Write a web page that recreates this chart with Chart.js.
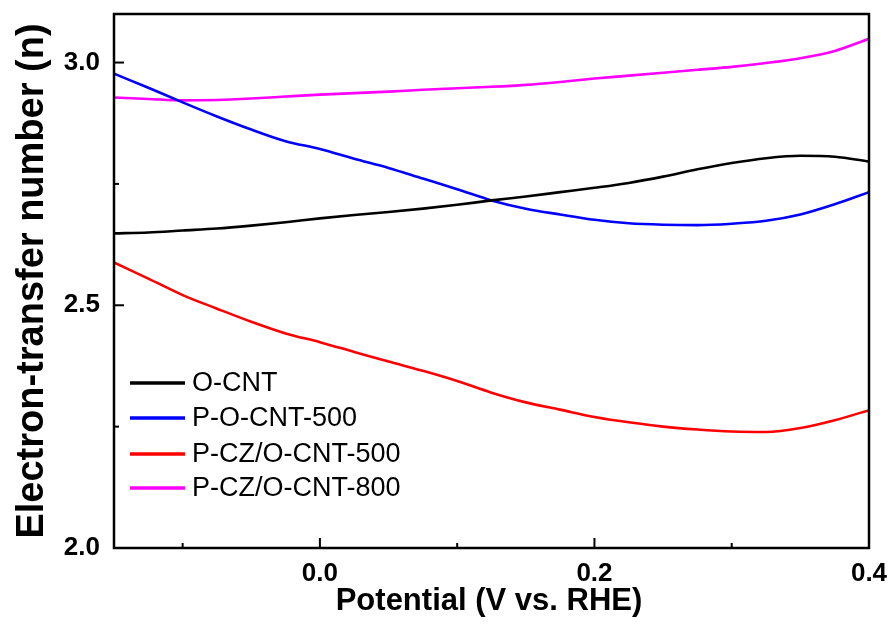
<!DOCTYPE html>
<html>
<head>
<meta charset="utf-8">
<script src="https://cdn.jsdelivr.net/npm/chart.js@4.4.1/dist/chart.umd.min.js"></script>
<style>
  html, body { margin: 0; padding: 0; background: #ffffff; }
  #wrap { width: 895px; height: 624px; position: relative; }
</style>
</head>
<body>
<div id="wrap"><canvas id="c"></canvas></div>
<script>
// ---- data ----
const potential = [-0.15, -0.125, -0.1, -0.075, -0.05, -0.025, 0, 0.025, 0.05, 0.075, 0.1, 0.125, 0.15, 0.175, 0.2, 0.225, 0.25, 0.275, 0.3, 0.325, 0.35, 0.375, 0.4];
const oCNT      = [2.648, 2.650, 2.654, 2.658, 2.664, 2.671, 2.679, 2.686, 2.692, 2.699, 2.707, 2.716, 2.724, 2.733, 2.742, 2.752, 2.765, 2.780, 2.793, 2.803, 2.808, 2.806, 2.796];
const pOCNT500  = [2.977, 2.948, 2.918, 2.889, 2.862, 2.838, 2.822, 2.802, 2.783, 2.761, 2.739, 2.716, 2.699, 2.687, 2.676, 2.669, 2.666, 2.665, 2.668, 2.674, 2.687, 2.708, 2.733];
const pCZ500    = [2.588, 2.555, 2.521, 2.493, 2.466, 2.442, 2.424, 2.404, 2.384, 2.365, 2.344, 2.320, 2.300, 2.285, 2.270, 2.259, 2.250, 2.244, 2.240, 2.239, 2.247, 2.263, 2.284];
const pCZ800    = [2.928, 2.925, 2.922, 2.923, 2.926, 2.930, 2.934, 2.937, 2.940, 2.944, 2.947, 2.950, 2.954, 2.960, 2.967, 2.973, 2.979, 2.985, 2.991, 2.999, 3.009, 3.024, 3.049];
const seriesNames = ['O-CNT', 'P-O-CNT-500', 'P-CZ/O-CNT-500', 'P-CZ/O-CNT-800'];
const seriesColors = ['#000000', '#0000ff', '#ff0000', '#ff00ff'];
const xTickValues = [-0.1, 0, 0.1, 0.2, 0.3, 0.4];
const yTickValues = [2.0, 2.25, 2.5, 2.75, 3.0];
const xTitle = 'Potential (V vs. RHE)';
const yTitle = 'Electron-transfer number (n)';

const seriesValues = [oCNT, pOCNT500, pCZ500, pCZ800];
const FONT = '"Liberation Sans", Arial, Helvetica, sans-serif';

const datasets = seriesValues.map((vals, i) => ({
  label: seriesNames[i],
  data: potential.map((x, j) => ({ x: x, y: vals[j] })),
  borderColor: seriesColors[i],
  backgroundColor: seriesColors[i],
  borderWidth: 2.6,
  pointRadius: 0,
  tension: 0.4,
  cubicInterpolationMode: 'monotone',
  fill: false
}));

const isMajor = (v, step) => Math.abs(v / step - Math.round(v / step)) < 1e-6;

const decor = {
  id: 'decor',
  afterDraw(chart) {
    const ctx = chart.ctx;
    const a = chart.chartArea;
    const xs = chart.scales.x, ys = chart.scales.y;
    ctx.save();
    ctx.strokeStyle = '#000';
    ctx.lineCap = 'butt';
    // inward ticks
    ctx.lineWidth = 2;
    xTickValues.forEach(v => {
      const px = xs.getPixelForValue(v);
      const len = isMajor(v, 0.2) ? 10 : 5;
      ctx.beginPath(); ctx.moveTo(px, a.bottom); ctx.lineTo(px, a.bottom - len); ctx.stroke();
    });
    yTickValues.forEach(v => {
      const py = ys.getPixelForValue(v);
      const len = isMajor(v, 0.5) ? 10 : 5;
      ctx.beginPath(); ctx.moveTo(a.left, py); ctx.lineTo(a.left + len, py); ctx.stroke();
    });
    // frame
    ctx.lineWidth = 2.5;
    ctx.strokeRect(a.left, a.top, a.right - a.left, a.bottom - a.top);
    // legend
    const rowY = [383, 418, 454, 488];
    ctx.font = '27px ' + FONT;
    ctx.textBaseline = 'middle';
    ctx.textAlign = 'left';
    chart.data.datasets.forEach((ds, i) => {
      const y = rowY[i];
      ctx.strokeStyle = ds.borderColor;
      ctx.lineWidth = 3.5;
      ctx.beginPath(); ctx.moveTo(130, y); ctx.lineTo(185, y); ctx.stroke();
      ctx.fillStyle = '#000';
      ctx.fillText(ds.label, 192, y + 1);
    });
    // x title
    ctx.font = 'bold 31px ' + FONT;
    ctx.textAlign = 'center';
    ctx.fillStyle = '#000';
    ctx.fillText(xTitle, 489, 601);
    ctx.restore();
  }
};

new Chart(document.getElementById('c'), {
  type: 'line',
  data: { datasets: datasets },
  options: {
    responsive: true,
    maintainAspectRatio: false,
    animation: false,
    layout: { padding: { left: 0, right: 26, top: 14, bottom: 0 } },
    plugins: { legend: { display: false }, tooltip: { enabled: false } },
    scales: {
      x: {
        type: 'linear',
        min: -0.15, max: 0.4,
        afterBuildTicks: s => { s.ticks = xTickValues.map(v => ({ value: v })); },
        afterFit: s => { s.height = 76; s.paddingLeft = 0; s.paddingRight = 0; },
        grid: { display: false, drawTicks: false },
        border: { display: false },
        ticks: {
          autoSkip: false, maxRotation: 0, padding: 10, color: '#000',
          font: { family: FONT, size: 26, weight: 'bold' },
          callback: v => isMajor(v, 0.2) ? (Math.abs(v) < 1e-9 ? 0 : v).toFixed(1) : ''
        }
      },
      y: {
        type: 'linear',
        min: 2.0, max: 3.1,
        afterBuildTicks: s => { s.ticks = yTickValues.map(v => ({ value: v })); },
        afterFit: s => { s.width = 114; s.paddingTop = 0; s.paddingBottom = 0; },
        grid: { display: false, drawTicks: false },
        border: { display: false },
        title: {
          display: true, text: yTitle, color: '#000',
          font: { family: FONT, size: 38, weight: 'bold' },
          padding: { top: 10, bottom: 0 }
        },
        ticks: {
          autoSkip: false, padding: 14, color: '#000',
          font: { family: FONT, size: 26, weight: 'bold' },
          callback: v => isMajor(v, 0.5) ? v.toFixed(1) : ''
        }
      }
    }
  },
  plugins: [decor]
});
</script>
</body>
</html>
